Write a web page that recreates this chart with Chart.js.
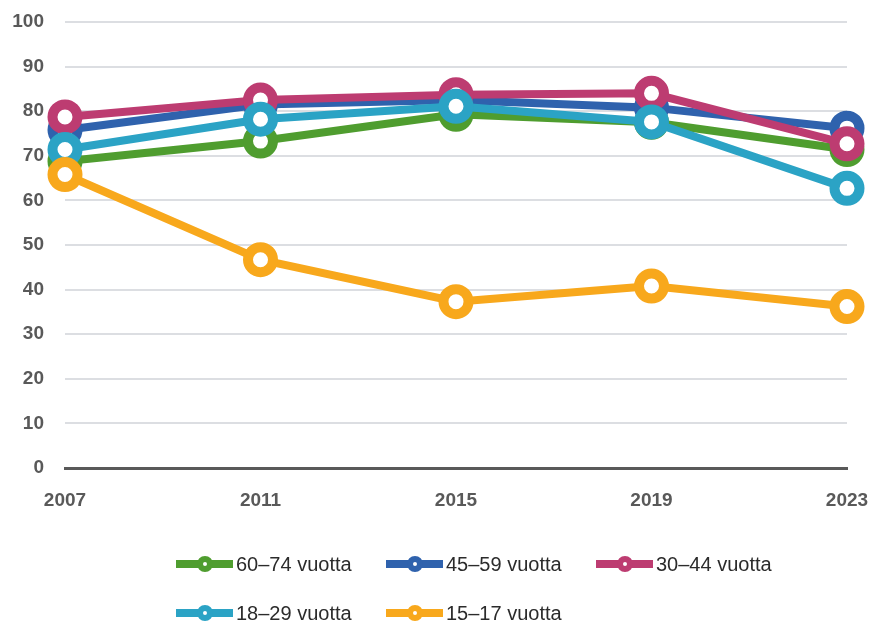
<!DOCTYPE html>
<html>
<head>
<meta charset="utf-8">
<script src="https://cdn.jsdelivr.net/npm/chart.js@4/dist/chart.umd.min.js"></script>
<style>
  html, body { margin: 0; padding: 0; background: #ffffff; }
  #wrap { width: 886px; height: 624px; position: relative; }
</style>
</head>
<body>
<div id="wrap"><canvas id="lineChart"></canvas></div>
<script>
// Data
const years = ["2007", "2011", "2015", "2019", "2023"];
const seriesNames = ["60–74 vuotta", "45–59 vuotta", "30–44 vuotta", "18–29 vuotta", "15–17 vuotta"];
const age60to74 = [68.8, 73.3, 79.3, 77.5, 71.4];
const age45to59 = [75.8, 81.5, 82.5, 80.8, 76.2];
const age30to44 = [78.7, 82.5, 83.7, 84.0, 72.7];
const age18to29 = [71.4, 78.2, 81.1, 77.6, 62.7];
const age15to17 = [65.8, 46.7, 37.3, 40.8, 36.2];
const seriesColors = ["#4f9d2f", "#2f62ad", "#bd3c71", "#2ba3c5", "#f8a81c"];

// Legend drawn as a fixed grid under the chart (3 columns, 2 rows)
const gridLegend = {
    id: "gridLegend",
    afterDraw(chart) {
        const ctx = chart.ctx;
        const colX = [176, 386, 596];
        const rowY = [564, 613];
        ctx.save();
        chart.data.datasets.forEach((ds, i) => {
            const x = colX[i % 3];
            const y = rowY[Math.floor(i / 3)];
            ctx.strokeStyle = ds.borderColor;
            ctx.lineWidth = 8;
            ctx.lineCap = "butt";
            ctx.beginPath();
            ctx.moveTo(x, y);
            ctx.lineTo(x + 57, y);
            ctx.stroke();
            ctx.beginPath();
            ctx.arc(x + 29, y, 5, 0, Math.PI * 2);
            ctx.fillStyle = "#ffffff";
            ctx.fill();
            ctx.lineWidth = 6;
            ctx.stroke();
            ctx.fillStyle = "#2b2b2b";
            ctx.font = "20px 'Liberation Sans', Arial, sans-serif";
            ctx.textAlign = "left";
            ctx.textBaseline = "middle";
            ctx.fillText(ds.label, x + 60, y + 1);
        });
        ctx.restore();
    }
};

function makeDataset(idx, values) {
    return {
        label: seriesNames[idx],
        data: values,
        borderColor: seriesColors[idx],
        backgroundColor: "#ffffff",
        borderWidth: 8,
        pointRadius: 12.5,
        pointBorderWidth: 10,
        pointBackgroundColor: "#ffffff",
        pointBorderColor: seriesColors[idx],
        pointHoverRadius: 12.5,
        tension: 0,
        clip: false,
        order: 5 - idx
    };
}

const ctx = document.getElementById("lineChart").getContext("2d");
new Chart(ctx, {
    type: "line",
    data: {
        labels: years,
        datasets: [
            makeDataset(0, age60to74),
            makeDataset(1, age45to59),
            makeDataset(2, age30to44),
            makeDataset(3, age18to29),
            makeDataset(4, age15to17)
        ]
    },
    options: {
        responsive: true,
        maintainAspectRatio: false,
        animation: false,
        layout: { autoPadding: false, padding: { top: 22, right: 39, bottom: 116, left: 0 } },
        plugins: {
            legend: { display: false },
            tooltip: { enabled: false }
        },
        scales: {
            x: {
                offset: false,
                grid: { display: false },
                border: { display: true, color: "#595959", width: 3 },
                ticks: {
                    color: "#595959",
                    padding: 13,
                    font: { family: "'Liberation Sans', Arial, sans-serif", size: 19, weight: "bold" }
                },
                afterFit(scale) { scale.height = 40; }
            },
            y: {
                min: 0,
                max: 100,
                border: { display: false },
                grid: {
                    drawTicks: false,
                    color: (c) => c.tick && c.tick.value === 0 ? "#595959" : "#dcdee2",
                    lineWidth: (c) => c.tick && c.tick.value === 0 ? 3 : 2
                },
                ticks: {
                    stepSize: 10,
                    color: "#595959",
                    padding: 21,
                    font: { family: "'Liberation Sans', Arial, sans-serif", size: 19, weight: "bold" }
                },
                afterFit(scale) {
                    scale.width = 65;
                    scale.paddingTop = 0;
                    scale.paddingBottom = 0;
                }
            }
        }
    },
    plugins: [gridLegend]
});
</script>
</body>
</html>
